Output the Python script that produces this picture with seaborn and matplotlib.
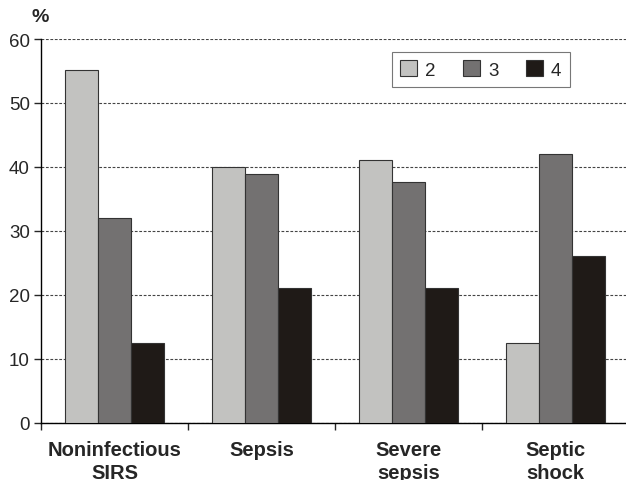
import numpy as np
import pandas as pd
import matplotlib
matplotlib.use("Agg")
import matplotlib.pyplot as plt
import seaborn as sns

# data
categories = ["Noninfectious\nSIRS", "Sepsis", "Severe\nsepsis", "Septic\nshock"]
groups = ["2", "3", "4"]
vals_2 = [55.2, 40.0, 41.1, 12.5]
vals_3 = [32.0, 38.9, 37.7, 42.0]
vals_4 = [12.5, 21.1, 21.1, 26.1]

df = pd.DataFrame({
    "category": categories * 3,
    "group": ["2"] * 4 + ["3"] * 4 + ["4"] * 4,
    "value": vals_2 + vals_3 + vals_4,
})

sns.set_style("white")
plt.rcParams["font.family"] = ["Liberation Sans", "DejaVu Sans"]

palette = {"2": "#c2c2c0", "3": "#737171", "4": "#1f1a17"}

fig = plt.figure(figsize=(6.26, 4.81), dpi=100)
ax = fig.add_axes([41 / 626, 57 / 481, 588 / 626, 384 / 481])

sns.barplot(data=df, x="category", y="value", hue="group", hue_order=groups,
            palette=palette, width=0.675, edgecolor="#333333", linewidth=0.8,
            saturation=1, ax=ax, legend=False, zorder=3)

ax.set_xlim(-0.5, 3.5)
ax.set_ylim(0, 60)
ax.set_yticks(np.arange(0, 61, 10))
ax.yaxis.grid(True, color="#444444", linestyle=(0, (2.5, 1.5)), linewidth=0.8, zorder=0)
ax.set_axisbelow(True)
ax.set_xlabel("")
ax.set_ylabel("")

for side in ["top", "right"]:
    ax.spines[side].set_visible(False)
for side in ["left", "bottom"]:
    ax.spines[side].set_color("black")
    ax.spines[side].set_linewidth(1.0)

ax.tick_params(axis="y", direction="out", length=5, width=1, left=True,
               labelsize=13.5, pad=3)
ax.tick_params(axis="x", which="major", length=0, labelsize=14.5, pad=12)
ax.set_xticks(np.arange(-0.5, 3.6, 1.0), minor=True)
ax.tick_params(axis="x", which="minor", direction="out", length=5, width=1, bottom=True)
for lbl in ax.get_xticklabels():
    lbl.set_fontweight("bold")
    lbl.set_linespacing(1.3)

handles = [plt.Rectangle((0, 0), 1, 1, facecolor=palette[g], edgecolor="#333333",
                         linewidth=0.8) for g in groups]
leg = ax.legend(handles, groups, ncol=3, loc="upper left",
                bbox_to_anchor=(0.597, 0.966), borderaxespad=0,
                frameon=True, fancybox=False,
                edgecolor="#555555", fontsize=13.5, handlelength=0.9,
                handleheight=0.9, handletextpad=0.4, columnspacing=1.5,
                borderpad=0.45)
leg.get_frame().set_linewidth(0.8)

fig.text(40 / 626, 1 - 18 / 481, "%", fontsize=14, fontweight="bold",
         ha="center", va="center")

fig.savefig("out.png", dpi=100)
